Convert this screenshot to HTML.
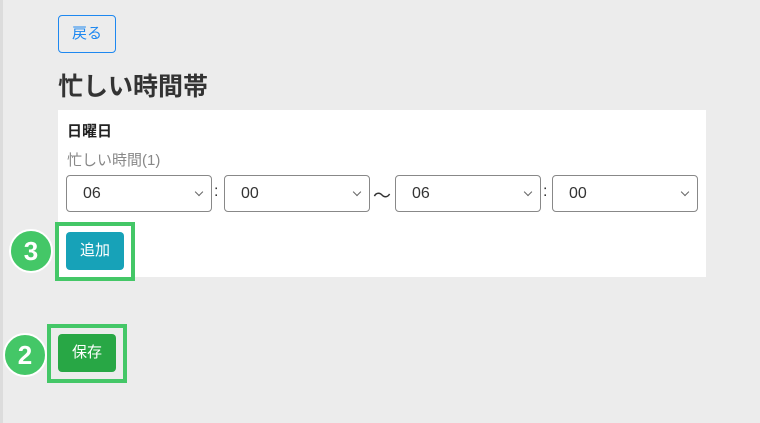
<!DOCTYPE html>
<html><head><meta charset="utf-8"><style>
body{margin:0;width:760px;height:423px;background:#ececec;position:relative;overflow:hidden;font-family:"Liberation Sans","Noto Sans CJK JP",sans-serif;}
.a{position:absolute;box-sizing:border-box;}
.sel{border:1px solid #888;border-radius:4px;background:#fff;height:37px;top:175px;width:146px;font-size:16px;color:#333;padding:9px 0 0 16px;}
.sel:after{content:"";position:absolute;right:9px;top:13px;width:5px;height:5px;border-right:1px solid #666;border-bottom:1px solid #666;transform:rotate(45deg);}
.box{border:4px solid #44c767;}
.circ{border-radius:50%;background:#44c767;border:2px solid #fff;color:#fff;font-weight:bold;font-size:26px;text-align:center;line-height:40px;width:44px;height:44px;}
.btn{color:#fff;font-size:15px;text-align:center;line-height:38px;border-radius:4px;}
</style></head><body>
<div class="a" style="left:0;top:0;width:3px;height:423px;background:#dcdcdc"></div>
<div class="a" style="left:58px;top:15px;width:58px;height:38px;border:1px solid #1e88f0;border-radius:4px;color:#1e88f0;font-size:15px;text-align:center;line-height:36px">戻る</div>
<div class="a" style="left:58px;top:67px;font-size:25px;font-weight:bold;color:#333">忙しい時間帯</div>
<div class="a" style="left:58px;top:110px;width:648px;height:167px;background:#fff"></div>
<div class="a" style="left:67px;top:120px;font-size:15px;font-weight:bold;color:#222">日曜日</div>
<div class="a" style="left:67px;top:149px;font-size:15px;color:#888">忙しい時間(1)</div>
<div class="a sel" style="left:66px">06</div>
<div class="a" style="left:214px;top:183px;font-size:16px;color:#333">:</div>
<div class="a sel" style="left:224px">00</div>
<div class="a" style="left:373px;top:182px;font-size:18px;color:#333">〜</div>
<div class="a sel" style="left:395px">06</div>
<div class="a" style="left:543px;top:183px;font-size:16px;color:#333">:</div>
<div class="a sel" style="left:552px">00</div>
<div class="a box" style="left:55px;top:222px;width:80px;height:59px"></div>
<div class="a btn" style="left:66px;top:232px;width:58px;height:38px;background:#17a2b8">追加</div>
<div class="a circ" style="left:9px;top:229px">3</div>
<div class="a box" style="left:47px;top:324px;width:80px;height:59px"></div>
<div class="a btn" style="left:58px;top:334px;width:58px;height:38px;background:#28a745">保存</div>
<div class="a circ" style="left:3px;top:333px">2</div>
</body></html>
